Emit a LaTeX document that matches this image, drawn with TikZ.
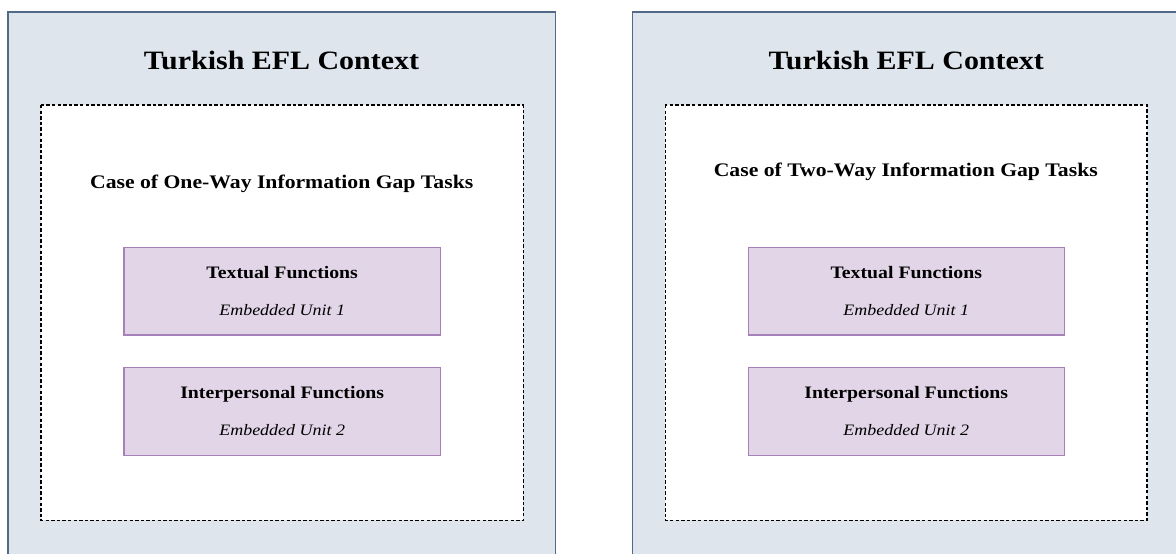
\documentclass[tikz,border=0pt]{standalone}
\usepackage{fontspec}
\setmainfont{Liberation Serif}[FakeStretch=1.13]
\definecolor{outerfill}{HTML}{DEE5EC}
\definecolor{outerline}{HTML}{52698A}
\definecolor{purfill}{HTML}{E1D5E7}
\definecolor{purline}{HTML}{A680B8}
\tikzset{
  outerbox/.style={fill=outerfill, draw=outerline, line width=1.3pt},
  casebox/.style={fill=white, draw=black, line width=1.3pt, dash pattern=on 3.4pt off 2.2pt},
  funcbox/.style={fill=purfill, draw=purline, line width=1.3pt},
  titletext/.style={anchor=base, inner sep=0pt, font=\fontsize{26.5}{30}\selectfont\bfseries},
  casetext/.style={anchor=base, inner sep=0pt, font=\fontsize{19.2}{22}\selectfont\bfseries},
  functext/.style={anchor=base, inner sep=0pt, font=\fontsize{17.5}{20}\selectfont\bfseries},
  unittext/.style={anchor=base, inner sep=0pt, font=\fontsize{15.9}{18}\selectfont\itshape},
}
\begin{document}
\begin{tikzpicture}[x=1pt,y=-1pt]
\clip (0,0) rectangle (1176,554);
\fill[white] (0,0) rectangle (1176,554);
% left panel
\draw[outerbox] (8,12) rectangle (555.7,580);
\draw[casebox] (41,105) rectangle (523.3,520.3);
\draw[funcbox] (124,247.3) rectangle (440.3,335);
\draw[funcbox] (124,367.3) rectangle (440.3,455.7);
\node[titletext] (t1) at (281.5,69.3) {Turkish EFL Context};
\node[casetext] (c1) at (281.7,188.3) {Case of One-Way Information Gap Tasks};
\node[functext] (f1a) at (282.2,278.5) {Textual Functions};
\node[unittext] (u1a) at (282.2,315) {Embedded Unit 1};
\node[functext] (f1b) at (282.2,398.5) {Interpersonal Functions};
\node[unittext] (u1b) at (282.2,435) {Embedded Unit 2};
% right panel
\draw[outerbox] (632.7,12) rectangle (1180.4,580);
\draw[casebox] (665.3,105) rectangle (1147,520.3);
\draw[funcbox] (748.3,247.3) rectangle (1064.3,335);
\draw[funcbox] (748.3,367.3) rectangle (1064.3,455.7);
\node[titletext] (t2) at (906.3,69.3) {Turkish EFL Context};
\node[casetext] (c2) at (905.8,176.3) {Case of Two-Way Information Gap Tasks};
\node[functext] (f2a) at (906.3,278.5) {Textual Functions};
\node[unittext] (u2a) at (906.3,315) {Embedded Unit 1};
\node[functext] (f2b) at (906.3,398.5) {Interpersonal Functions};
\node[unittext] (u2b) at (906.3,435) {Embedded Unit 2};
\end{tikzpicture}
\end{document}
